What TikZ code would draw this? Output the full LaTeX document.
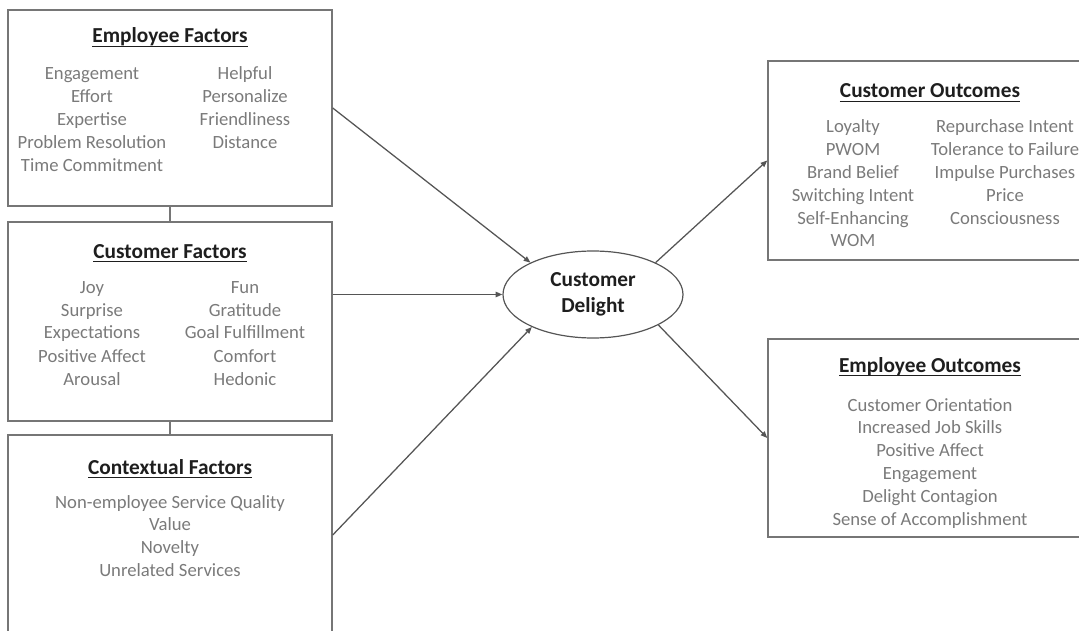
\documentclass[tikz,border=0pt]{standalone}
\usepackage{fontspec}
\setmainfont{Carlito}
\usetikzlibrary{arrows.meta,shapes.geometric}
\definecolor{boxline}{HTML}{767676}
\definecolor{bodytext}{HTML}{7A7A7A}
\definecolor{titletext}{HTML}{1E1E1E}
\definecolor{arrowline}{HTML}{555555}
% heading text with a slightly heavier underline
\newcommand{\headrule}[1]{\setbox0\hbox{#1}\rlap{\rule[-3pt]{\wd0}{1.1pt}}\box0}
\begin{document}
\begin{tikzpicture}[x=0.75pt,y=-0.75pt,
  panel/.style={draw=boxline,line width=1.1pt,inner sep=0pt,minimum width=243pt},
  heading/.style={font=\fontsize{16}{19}\selectfont\bfseries,text=titletext,anchor=base,inner sep=0pt},
  item/.style={font=\fontsize{14}{17}\selectfont,text=bodytext,anchor=base,inner sep=0pt},
  hub/.style={ellipse,draw=arrowline,line width=0.9pt,minimum width=135pt,minimum height=65.25pt,
    inner sep=0pt,align=center,text=titletext,font=\fontsize{16}{19.5}\selectfont\bfseries},
  link/.style={draw=arrowline,line width=0.95pt,-{Triangle[length=5pt,width=4pt]}},
  joiner/.style={draw=boxline,line width=1.1pt}]
\useasboundingbox (0,0) rectangle (1079,631);
\clip (0,0) rectangle (1079,631);

% factor panels on the left
\node[panel,minimum height=147pt]    (ef) at (170,108)   {};
\node[panel,minimum height=149.25pt] (cf) at (170,321.5) {};
\node[panel,minimum height=150pt]    (xf) at (170,535)   {};

% outcome panels on the right
\node[panel,minimum height=149.25pt] (co) at (930,160.5) {};
\node[panel,minimum height=148.5pt]  (eo) at (930,438)   {};

% central construct
\node[hub] (cd) at (593,294.5) {Customer\\Delight};

% panel joiners
\draw[joiner] (ef.south) -- (cf.north);
\draw[joiner] (cf.south) -- (xf.north);

% arrows
\draw[link] (ef.east) -- (cd.153);
\draw[link] (cf.east |- cd.west) -- (cd.west);
\draw[link] (xf.east) -- (cd.208);
\draw[link] (cd.27) -- (co.west);
\draw[link] (cd.335) -- (eo.west);

% Employee Factors
\node[heading] (efh) at (170,43) {\headrule{Employee Factors}};
\foreach \t [count=\i] in {Engagement,Effort,Expertise,Problem Resolution,Time Commitment}
  \node[item] (efa\i) at (92,{80+23*(\i-1)}) {\t};
\foreach \t [count=\i] in {Helpful,Personalize,Friendliness,Distance}
  \node[item] (efb\i) at (245,{80+23*(\i-1)}) {\t};

% Customer Factors
\node[heading] (cfh) at (170,258) {\headrule{Customer Factors}};
\foreach \t [count=\i] in {Joy,Surprise,Expectations,Positive Affect,Arousal}
  \node[item] (cfa\i) at (92,{293+23*(\i-1)}) {\t};
\foreach \t [count=\i] in {Fun,Gratitude,Goal Fulfillment,Comfort,Hedonic}
  \node[item] (cfb\i) at (245,{293+23*(\i-1)}) {\t};

% Contextual Factors
\node[heading] (xfh) at (170,474) {\headrule{Contextual Factors}};
\foreach \t [count=\i] in {Non-employee Service Quality,Value,Novelty,Unrelated Services}
  \node[item] (xfa\i) at (170,{508+22.7*(\i-1)}) {\t};

% Customer Outcomes
\node[heading] (coh) at (930,98) {\headrule{Customer Outcomes}};
\foreach \t [count=\i] in {Loyalty,PWOM,Brand Belief,Switching Intent,Self-Enhancing,WOM}
  \node[item] (coa\i) at (853,{133+22.8*(\i-1)}) {\t};
\foreach \t [count=\i] in {Repurchase Intent,Tolerance to Failure,Impulse Purchases,Price,Consciousness}
  \node[item] (cob\i) at (1005,{133+22.8*(\i-1)}) {\t};

% Employee Outcomes
\node[heading] (eoh) at (930,372) {\headrule{Employee Outcomes}};
\foreach \t [count=\i] in {Customer Orientation,Increased Job Skills,Positive Affect,Engagement,Delight Contagion,Sense of Accomplishment}
  \node[item] (eoa\i) at (930,{411+22.8*(\i-1)}) {\t};
\end{tikzpicture}
\end{document}
